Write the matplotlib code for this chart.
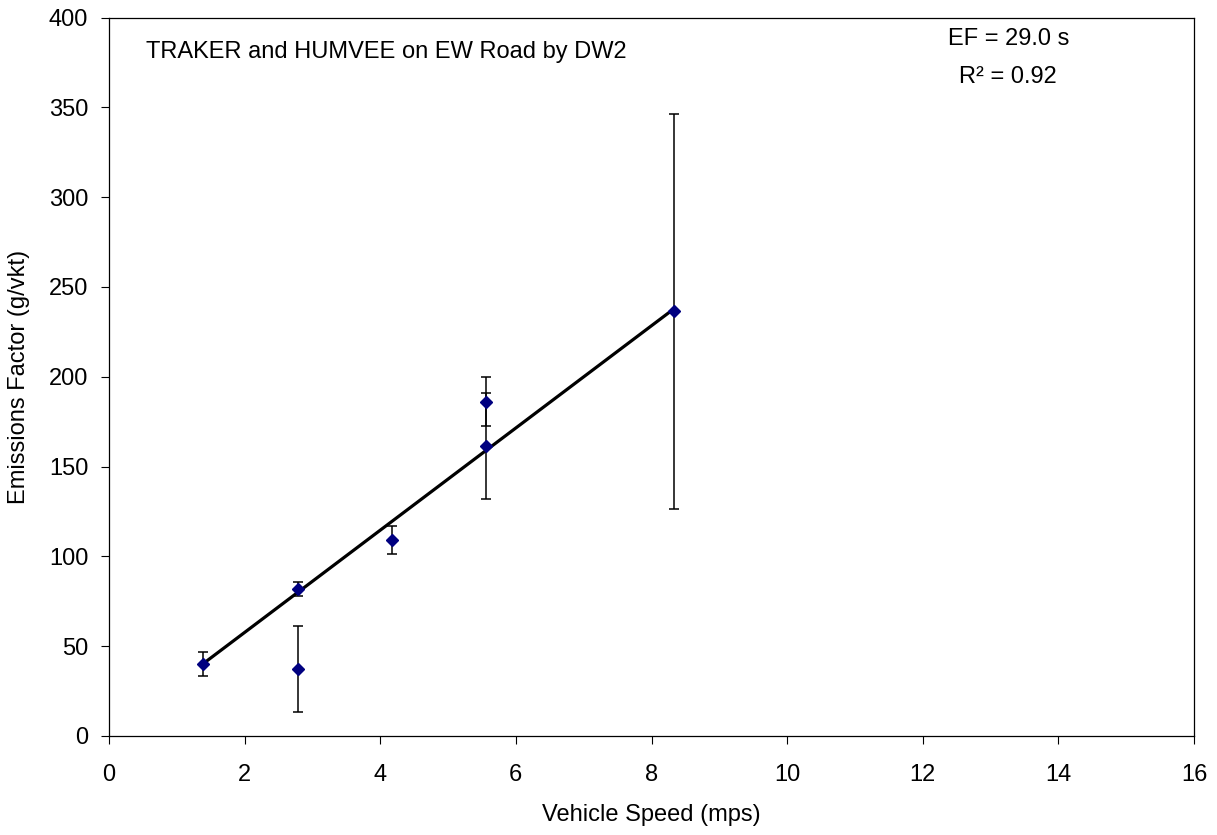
from matplotlib import pyplot as plt

plt.rcParams['font.family'] = ['Liberation Sans', 'DejaVu Sans']

# measured points (vehicle speed in m/s, emissions factor in g/vkt)
speed = [1.39, 2.78, 2.78, 4.17, 5.56, 5.56, 8.33]
ef = [40.0, 81.8, 37.3, 109.2, 186.2, 161.5, 236.5]
ef_err = [6.8, 3.9, 24.0, 7.8, 13.7, 29.6, 110.0]

# trendline end points
fit_x = [1.39, 8.33]
fit_y = [40.3, 237.8]

title_text = 'TRAKER and HUMVEE on EW Road by DW2'
ef_text = 'EF = 29.0 s'
r2_text = 'R² = 0.92'

fig = plt.figure(figsize=(12.17, 8.35), dpi=100)
ax = fig.add_axes([109 / 1217, 99 / 835, 1085 / 1217, 718.5 / 835])

ax.errorbar(speed, ef, yerr=ef_err, fmt='none', ecolor='black',
            elinewidth=1.1, capsize=3.8, capthick=1.1, zorder=2)
ax.plot(fit_x, fit_y, color='black', linewidth=2.3, zorder=3)
ax.plot(speed, ef, linestyle='none', marker='D', markersize=6.5,
        color='#000080', markeredgecolor='#000080', zorder=4)

ax.set_xlim(0, 16)
ax.set_ylim(0, 400)
ax.set_xticks(range(0, 17, 2))
ax.set_yticks(range(0, 401, 50))

ax.tick_params(axis='both', direction='out', length=6, width=0.8,
               labelsize=17, top=False, right=False)
ax.tick_params(axis='x', pad=14)
ax.tick_params(axis='y', pad=9)
for sp in ax.spines.values():
    sp.set_linewidth(0.9)

ax.set_xlabel('Vehicle Speed (mps)', fontsize=17)
ax.set_ylabel('Emissions Factor (g/vkt)', fontsize=17)
ax.xaxis.set_label_coords(0.5, -0.095)
ax.yaxis.set_label_coords(-0.073, 0.5)

ax.text(0.55, 381, title_text, fontsize=17, ha='left', va='center')
ax.text(13.26, 388, ef_text, fontsize=17, ha='center', va='center')
ax.text(13.26, 367, r2_text, fontsize=17, ha='center', va='center')

fig.savefig('out.png', dpi=100)
